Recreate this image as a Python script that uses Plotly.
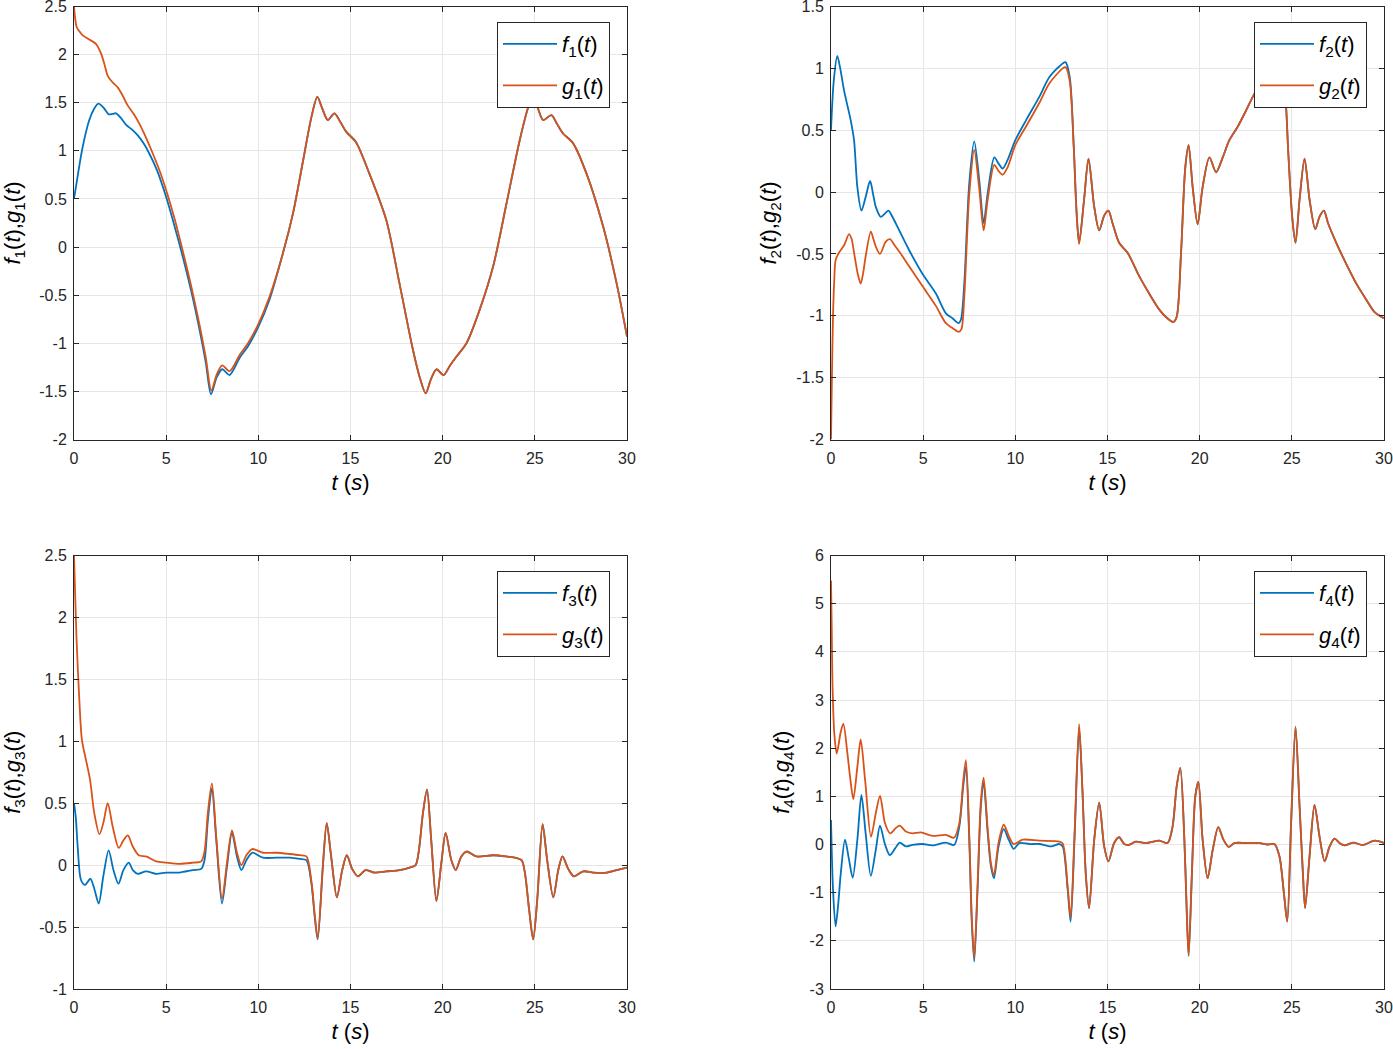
import plotly.graph_objects as go

# ---------------- data ----------------
# Panel 1 : f1 / g1
t1_head_f = [0, 0.25, 0.47, 0.83, 1.1, 1.32, 1.6, 1.88, 2.1, 2.28, 2.55, 2.83, 3.15, 3.46, 3.8, 4.09, 4.5,
             5.0, 5.45, 5.9, 6.35, 6.8, 7.15, 7.43, 7.75, 8.04, 8.44, 8.99, 9.44, 10.0, 10.6]
f1_head = [0.5, 0.8, 1.04, 1.32, 1.44, 1.49, 1.45, 1.38, 1.385, 1.39, 1.34, 1.27, 1.22, 1.16, 1.07, 0.97, 0.8,
           0.52, 0.22, -0.1, -0.45, -0.85, -1.2, -1.53, -1.35, -1.27, -1.33, -1.15, -1.03, -0.83, -0.55]
t1_head_g = [0, 0.05, 0.14, 0.3, 0.47, 0.8, 1.2, 1.47, 1.65, 1.83, 2.1, 2.37, 2.65, 2.92, 3.25, 3.55, 3.9,
             4.28, 4.65, 5.0, 5.45, 5.9, 6.35, 6.8, 7.15, 7.45, 7.75, 8.04, 8.44, 8.99, 9.44, 10.0, 10.6]
g1_head = [2.5, 2.4, 2.29, 2.24, 2.2, 2.16, 2.11, 2.01, 1.9, 1.78, 1.71, 1.66, 1.57, 1.47, 1.38, 1.28, 1.14,
           0.97, 0.79, 0.59, 0.3, -0.04, -0.4, -0.8, -1.15, -1.49, -1.32, -1.23, -1.29, -1.12, -1.0, -0.8, -0.52]
t1_tail = [11.34, 11.88, 12.43, 12.88, 13.2, 13.45, 13.77, 14.13, 14.45, 14.76, 15.3, 16.03, 16.94, 17.66,
           18.39, 18.75, 19.08, 19.35, 19.66, 20.05, 20.4, 20.74, 21.29, 22.01, 22.74, 23.46, 24.18, 24.64,
           24.9, 25.15, 25.45, 25.9, 26.2, 26.53, 27.07, 27.81, 28.71, 29.44, 30.0]
fg1_tail = [-0.06, 0.35, 0.9, 1.35, 1.56, 1.45, 1.32, 1.39, 1.3, 1.2, 1.09, 0.76, 0.28, -0.38,
            -1.07, -1.35, -1.52, -1.38, -1.27, -1.33, -1.23, -1.14, -1.0, -0.65, -0.2, 0.45, 1.11, 1.45,
            1.55, 1.45, 1.32, 1.37, 1.28, 1.18, 1.08, 0.76, 0.21, -0.38, -0.93]

# Panel 2 : f2 / g2
t2_head_f = [0, 0.15, 0.34, 0.5, 0.71, 1.07, 1.25, 1.43, 1.65, 1.88, 2.12, 2.3, 2.43, 2.7, 2.95, 3.12, 3.33,
             3.7, 4.24, 4.96, 5.69, 6.23, 6.59, 6.92, 7.05, 7.23, 7.5, 7.77, 8.04, 8.28, 8.5, 8.86, 9.09,
             9.31, 9.58, 10.0, 10.58, 11.3, 11.85, 12.57, 12.72, 12.95, 13.17, 13.32, 13.46]
f2_head = [0.5, 0.9, 1.1, 1.0, 0.82, 0.58, 0.42, 0.04, -0.15, -0.04, 0.09, -0.03, -0.12, -0.2, -0.17, -0.15, -0.2,
           -0.31, -0.47, -0.66, -0.82, -0.98, -1.02, -1.06, -1.03, -0.74, 0.07, 0.41, 0.1, -0.25, -0.01, 0.28, 0.23,
           0.19, 0.26, 0.42, 0.58, 0.77, 0.93, 1.04, 1.05, 0.93, 0.37, -0.15, -0.41]
t2_head_g = [0, 0.05, 0.11, 0.18, 0.25, 0.43, 0.71, 0.98, 1.12, 1.25, 1.45, 1.61, 1.75, 1.88, 2.16, 2.3, 2.43,
             2.66, 2.97, 3.2, 3.45, 3.7, 4.24, 4.96, 5.69, 6.23, 6.6, 6.92, 7.07, 7.23, 7.5, 7.77, 8.04, 8.28,
             8.5, 8.86, 9.09, 9.31, 9.58, 10.0, 10.58, 11.3, 11.85, 12.57, 12.72, 12.95, 13.17, 13.32, 13.46]
g2_head = [-2.0, -1.5, -1.0, -0.7, -0.55, -0.49, -0.43, -0.34, -0.38, -0.49, -0.66, -0.74, -0.65, -0.52, -0.32,
           -0.38, -0.44, -0.5, -0.4, -0.38, -0.43, -0.48, -0.6, -0.76, -0.92, -1.06, -1.1, -1.13, -1.11, -0.85,
           -0.02, 0.34, 0.03, -0.31, -0.06, 0.22, 0.17, 0.14, 0.2, 0.38, 0.53, 0.72, 0.88, 1.0, 1.01, 0.9, 0.35,
           -0.17, -0.42]
t2_tail = [13.73, 13.97, 14.28, 14.55, 14.82, 15.05, 15.27, 15.63, 16.09, 16.72, 17.26, 17.81, 18.17, 18.57,
           18.75, 18.99, 19.22, 19.4, 19.62, 19.89, 20.16, 20.53, 20.89, 21.25, 21.61, 22.07, 22.52, 22.88,
           23.4, 23.9, 24.4, 24.55, 24.7, 24.8, 25.02, 25.2, 25.42, 25.69, 25.96, 26.27, 26.5, 26.74, 26.96,
           27.41, 27.95, 28.5, 29.04, 29.49, 30.0]
fg2_tail = [-0.06, 0.27, -0.12, -0.31, -0.19, -0.15, -0.25, -0.41, -0.49, -0.68, -0.82, -0.95, -1.01, -1.05,
            -1.01, -0.49, 0.2, 0.38, 0.04, -0.26, 0.04, 0.28, 0.16, 0.28, 0.42, 0.53, 0.66, 0.77,
            0.9, 0.99, 1.04, 0.95, 0.66, 0.34, -0.2, -0.41, -0.06, 0.27, -0.06, -0.3, -0.2, -0.15, -0.25,
            -0.41, -0.58, -0.74, -0.87, -0.97, -1.02]

# Panel 3 : f3 / g3
t3_head_f = [0, 0.1, 0.2, 0.38, 0.6, 0.89, 1.1, 1.34, 1.59, 1.88, 2.14, 2.41, 2.68, 2.97, 3.19, 3.46, 3.91,
             4.46, 5.0, 5.72, 6.45, 6.9, 7.08, 7.26, 7.48, 7.72, 8.03, 8.3, 8.57, 8.84, 9.08, 9.35, 9.67,
             10.25, 10.98, 11.7, 12.25, 12.61, 12.88, 13.06, 13.22]
f3_head = [0.5, 0.38, 0.15, -0.12, -0.16, -0.11, -0.19, -0.31, -0.09, 0.12, -0.04, -0.15, -0.04, 0.02, -0.04,
           -0.07, -0.05, -0.07, -0.06, -0.06, -0.04, -0.03, 0.04, 0.36, 0.62, 0.2, -0.31, -0.01, 0.26, 0.07,
           -0.04, 0.04, 0.1, 0.06, 0.06, 0.06, 0.05, 0.04, -0.15, -0.42, -0.6]
t3_head_g = [0, 0.07, 0.14, 0.29, 0.43, 0.65, 0.87, 1.1, 1.38, 1.59, 1.83, 2.1, 2.43, 2.68, 2.92, 3.19, 3.51,
             3.91, 4.46, 5.0, 5.72, 6.45, 6.9, 7.08, 7.26, 7.48, 7.72, 8.03, 8.3, 8.57, 8.84, 9.08, 9.35, 9.67,
             10.25, 10.98, 11.7, 12.25, 12.61, 12.88, 13.06, 13.22]
g3_head = [2.5, 2.15, 1.82, 1.33, 1.01, 0.85, 0.69, 0.42, 0.25, 0.34, 0.5, 0.31, 0.14, 0.2, 0.24, 0.15, 0.08,
           0.07, 0.03, 0.02, 0.01, 0.02, 0.03, 0.11, 0.42, 0.66, 0.22, -0.27, 0.02, 0.28, 0.1, 0.0, 0.08, 0.13,
           0.1, 0.1, 0.09, 0.08, 0.07, -0.13, -0.4, -0.59]
t3_tail = [13.5, 13.71, 13.95, 14.26, 14.55, 14.8, 15.09, 15.4, 15.82, 16.3, 16.94, 17.66, 18.21, 18.53,
           18.71, 18.93, 19.15, 19.38, 19.66, 19.93, 20.16, 20.47, 20.71, 21.01, 21.29, 21.83, 22.74, 23.46,
           23.91, 24.28, 24.46, 24.69, 24.91, 25.13, 25.42, 25.67, 26.0, 26.27, 26.5, 26.81, 27.12, 27.63,
           28.17, 28.9, 29.44, 30.0]
fg3_tail = [-0.01, 0.34, 0.07, -0.26, -0.04, 0.08, -0.03, -0.09, -0.04, -0.06, -0.05, -0.04, -0.02, 0.0,
            0.12, 0.42, 0.61, 0.2, -0.29, 0.02, 0.26, 0.04, -0.04, 0.07, 0.11, 0.07, 0.08, 0.07,
            0.06, 0.04, -0.06, -0.36, -0.6, -0.28, 0.33, 0.04, -0.26, -0.04, 0.07, -0.03, -0.09, -0.05,
            -0.06, -0.06, -0.04, -0.02]

# Panel 4 : f4 / g4
t4_head_f = [0, 0.11, 0.25, 0.4, 0.53, 0.76, 0.98, 1.18, 1.43, 1.65, 1.88, 2.16, 2.43, 2.66, 2.93, 3.19, 3.48,
             3.73, 4.06, 4.42, 4.96, 5.51, 6.23, 6.68, 6.96, 7.17, 7.32, 7.5, 7.64, 7.77, 7.95, 8.13, 8.28,
             8.5, 8.68, 8.84, 9.09, 9.37, 9.64, 9.91, 10.22, 10.76, 11.3, 11.94, 12.39, 12.57, 12.84, 13.0,
             13.21, 13.46]
f4_head = [0.51, -0.94, -1.7, -1.2, -0.6, 0.1, -0.32, -0.69, 0.1, 1.03, 0.23, -0.65, -0.11, 0.39, 0.0, -0.22,
           -0.08, 0.04, -0.04, -0.01, 0.01, -0.02, 0.04, -0.01, 0.37, 1.2, 1.61, 0.1, -1.63, -2.43, -0.94, 0.79,
           1.28, 0.24, -0.46, -0.7, -0.04, 0.32, 0.1, -0.09, 0.03, 0.01, 0.01, -0.04, 0.01, -0.04, -0.94, -1.6,
           0.1, 2.42]
t4_head_g = [0, 0.04, 0.07, 0.12, 0.18, 0.31, 0.53, 0.67, 0.89, 1.05, 1.21, 1.43, 1.61, 1.85, 2.17, 2.43, 2.66,
             2.93, 3.21, 3.51, 3.73, 4.06, 4.42, 4.87, 5.51, 6.23, 6.68, 6.96, 7.17, 7.32, 7.5, 7.64, 7.77,
             7.95, 8.13, 8.28, 8.5, 8.68, 8.84, 9.09, 9.37, 9.64, 9.91, 10.4, 11.3, 12.39, 12.57, 12.84, 13.0,
             13.21, 13.46]
g4_head = [5.48, 4.5, 3.55, 2.8, 2.3, 1.89, 2.34, 2.51, 1.89, 1.35, 0.94, 1.61, 2.18, 1.34, 0.16, 0.65, 1.01,
           0.44, 0.23, 0.34, 0.39, 0.27, 0.23, 0.25, 0.18, 0.2, 0.14, 0.44, 1.3, 1.75, 0.2, -1.55, -2.36,
           -0.85, 0.9, 1.39, 0.32, -0.4, -0.63, 0.04, 0.41, 0.18, 0.01, 0.1, 0.08, 0.06, 0.02, -0.88, -1.52,
           0.2, 2.5]
t4_tail = [13.64, 13.82, 14.0, 14.28, 14.55, 14.82, 15.05, 15.36, 15.63, 15.91, 16.14, 16.54, 17.08, 17.81,
           18.26, 18.53, 18.75, 18.95, 19.17, 19.29, 19.4, 19.58, 19.76, 19.93, 20.16, 20.43, 20.71, 21.01,
           21.29, 21.58, 21.88, 22.52, 23.24, 23.7, 24.06, 24.33, 24.57, 24.75, 24.96, 25.2, 25.42, 25.6,
           25.72, 25.96, 26.23, 26.5, 26.78, 27.05, 27.32, 27.59, 27.86, 28.32, 28.86, 29.49, 30.0]
fg4_tail = [1.13, -0.6, -1.32, 0.1, 0.87, -0.04, -0.35, 0.03, 0.15, 0.01, -0.01, 0.06, 0.03, 0.08,
            0.03, 0.37, 1.2, 1.59, 0.1, -1.29, -2.31, -0.6, 0.99, 1.3, 0.1, -0.7, -0.11, 0.36,
            0.1, -0.05, 0.03, 0.03, 0.03, 0.0, 0.01, -0.25, -1.01, -1.6, 0.44, 2.44, 0.79, -0.6,
            -1.32, -0.25, 0.82, 0.17, -0.35, -0.04, 0.12, 0.03, -0.02, 0.04, -0.01, 0.08, 0.03]

# tick labels
x_ticks = [0, 5, 10, 15, 20, 25, 30]
y1_ticks = [-2, -1.5, -1, -0.5, 0, 0.5, 1, 1.5, 2, 2.5]
y2_ticks = [-2, -1.5, -1, -0.5, 0, 0.5, 1, 1.5]
y3_ticks = [-1, -0.5, 0, 0.5, 1, 1.5, 2, 2.5]
y4_ticks = [-3, -2, -1, 0, 1, 2, 3, 4, 5, 6]

# ---------------- figure ----------------
W, H = 1393, 1049
BLUE = "#0072BD"
ORANGE = "#D95319"
FONT = "Liberation Sans, Arial, Helvetica, sans-serif"


def lab(v):
    return "%g" % v  # hyphen-minus like MATLAB


fig = go.Figure()

panels = [
    dict(n=1, tf=t1_head_f + t1_tail, f=f1_head + fg1_tail, tg=t1_head_g + t1_tail, g=g1_head + fg1_tail,
         yt=y1_ticks, xd=(74, 627), yd=(6.5, 439.5)),
    dict(n=2, tf=t2_head_f + t2_tail, f=f2_head + fg2_tail, tg=t2_head_g + t2_tail, g=g2_head + fg2_tail,
         yt=y2_ticks, xd=(831, 1384), yd=(6.5, 439.5)),
    dict(n=3, tf=t3_head_f + t3_tail, f=f3_head + fg3_tail, tg=t3_head_g + t3_tail, g=g3_head + fg3_tail,
         yt=y3_ticks, xd=(74, 627), yd=(555.5, 989)),
    dict(n=4, tf=t4_head_f + t4_tail, f=f4_head + fg4_tail, tg=t4_head_g + t4_tail, g=g4_head + fg4_tail,
         yt=y4_ticks, xd=(831, 1384), yd=(555.5, 989)),
]

layout = dict(template="none", width=W, height=H, margin=dict(l=0, r=0, t=0, b=0, pad=0), autosize=False,
              paper_bgcolor="white", plot_bgcolor="white", font=dict(family=FONT, color="#262626"),
              showlegend=True, hovermode=False)

for p in panels:
    n = p["n"]
    xa = "x" if n == 1 else "x%d" % n
    ya = "y" if n == 1 else "y%d" % n
    lg = "legend" if n == 1 else "legend%d" % n
    fig.add_trace(go.Scatter(x=p["tf"], y=p["f"], mode="lines", xaxis=xa, yaxis=ya, legend=lg,
                             legendgroup="f%d" % n,
                             name="<i>f</i><sub>%d</sub>(<i>t</i>)" % n,
                             line=dict(color=BLUE, width=1.8, shape="spline", smoothing=0.8)))
    fig.add_trace(go.Scatter(x=p["tg"], y=p["g"], mode="lines", xaxis=xa, yaxis=ya, legend=lg,
                             legendgroup="g%d" % n,
                             name="<i>g</i><sub>%d</sub>(<i>t</i>)" % n,
                             line=dict(color=ORANGE, width=1.8, shape="spline", smoothing=0.8)))
    x0, x1 = p["xd"]
    y0, y1 = p["yd"]
    common = dict(showline=True, linecolor="#262626", linewidth=1, mirror="ticks", ticks="inside",
                  ticklen=5, tickcolor="#262626", tickwidth=1, showgrid=True, gridcolor="#e6e6e6",
                  gridwidth=1, zeroline=False, automargin=False, ticklabeloverflow="allow",
                  tickfont=dict(size=16, family=FONT, color="#262626"))
    layout["xaxis" if n == 1 else "xaxis%d" % n] = dict(
        common, domain=[x0 / W, x1 / W], anchor=ya, range=[0, 30],
        tickvals=x_ticks, ticktext=[lab(v) for v in x_ticks], ticklabelstandoff=4,
        title=dict(text="<i>t</i> (<i>s</i>)", font=dict(size=22, family=FONT, color="#000000"), standoff=8))
    yt = p["yt"]
    layout["yaxis" if n == 1 else "yaxis%d" % n] = dict(
        common, domain=[1 - y1 / H, 1 - y0 / H], anchor=xa, range=[yt[0], yt[-1]],
        tickvals=yt, ticktext=[lab(v) for v in yt], ticklabelstandoff=3,
        title=dict(text="<i>f</i><sub>%d</sub>(<i>t</i>),<i>g</i><sub>%d</sub>(<i>t</i>)" % (n, n),
                   font=dict(size=22, family=FONT, color="#000000"), standoff=13))
    ly = 22 if n <= 2 else 571
    layout[lg] = dict(x=(x1 - 17) / W, y=1 - ly / H, xanchor="right", yanchor="top",
                      bgcolor="white", bordercolor="#262626", borderwidth=1,
                      font=dict(size=22, family=FONT, color="#000000"), itemwidth=54,
                      tracegroupgap=10, traceorder="grouped")

fig.update_layout(**layout)
fig.write_html("out.html", config={"displayModeBar": False},
               post_script="document.body.style.margin='0px';")
